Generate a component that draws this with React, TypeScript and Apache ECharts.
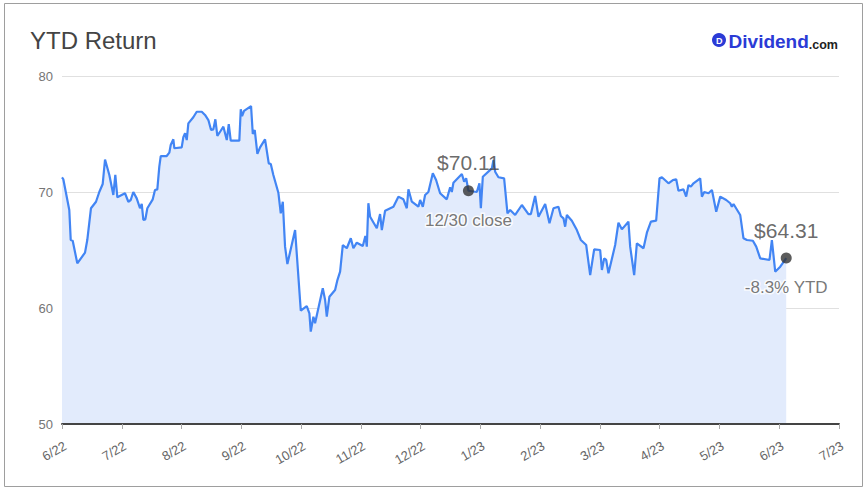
import React, { useEffect, useRef } from "react";
import * as echarts from "echarts";

// x positions in months since 6/22 (axis has evenly spaced months)
const tickLabels = ["6/22", "7/22", "8/22", "9/22", "10/22", "11/22", "12/22", "1/23", "2/23", "3/23", "4/23", "5/23", "6/23", "7/23"];

const t = [
  0.000, 0.022, 0.122, 0.146, 0.179, 0.256, 0.385, 0.423, 0.485, 0.569, 0.624, 0.681, 0.720, 0.792, 0.859, 0.892, 0.926,
  1.054, 1.110, 1.150, 1.193, 1.250, 1.305, 1.334, 1.361, 1.394, 1.428, 1.518, 1.556, 1.595, 1.628, 1.652, 1.752, 1.796, 1.819, 1.863, 1.880,
  2.003, 2.030, 2.059, 2.087, 2.114, 2.197, 2.254, 2.338, 2.393, 2.449, 2.494, 2.532, 2.566, 2.599, 2.656, 2.700, 2.757, 2.790, 2.823, 2.967, 2.991,
  3.013, 3.046, 3.163, 3.192, 3.225, 3.269, 3.314, 3.397, 3.459, 3.493, 3.536, 3.620, 3.660, 3.694, 3.732, 3.771, 3.900, 3.995,
  4.095, 4.139, 4.162, 4.206, 4.234, 4.363, 4.402, 4.430, 4.474, 4.569, 4.608, 4.653, 4.698, 4.765, 4.832, 4.875, 4.932,
  5.033, 5.076, 5.100, 5.126, 5.155, 5.267, 5.322, 5.351, 5.406, 5.545, 5.628, 5.712, 5.769, 5.796, 5.853, 5.963, 5.992,
  6.037, 6.075, 6.130, 6.204, 6.259, 6.326, 6.438, 6.494, 6.522, 6.549, 6.690, 6.728, 6.762, 6.800, 6.941, 6.984,
  7.008, 7.041, 7.192, 7.219, 7.247, 7.302, 7.397, 7.453, 7.498, 7.582, 7.694, 7.804, 7.845, 7.916, 7.972,
  8.084, 8.156, 8.223, 8.306, 8.346, 8.390, 8.418, 8.447, 8.530, 8.614, 8.681, 8.770, 8.837, 8.904,
  9.004, 9.033, 9.071, 9.105, 9.143, 9.255, 9.310, 9.367, 9.477, 9.506, 9.573, 9.618, 9.729, 9.786, 9.853, 9.941, 9.997,
  10.037, 10.147, 10.221, 10.276, 10.314, 10.398, 10.443, 10.482, 10.522, 10.566, 10.678, 10.706, 10.745, 10.817, 10.874, 10.946,
  11.013, 11.113, 11.180, 11.208, 11.235, 11.347, 11.402, 11.459, 11.559, 11.615, 11.682, 11.837, 11.877, 11.933,
  12.017, 12.062, 12.117,
];

const price = [
  71.27, 71.10, 68.45, 65.86, 65.80, 63.85, 64.77, 65.86, 68.60, 69.16, 70.00, 70.69, 72.80, 71.47, 69.74, 71.47, 69.54,
  69.89, 69.16, 69.31, 70.00, 69.45, 68.60, 68.97, 67.59, 67.64, 68.60, 69.37, 70.17, 70.23, 72.18, 73.10, 73.10, 73.39, 74.05, 74.54, 73.77,
  73.85, 74.72, 75.06, 74.48, 75.92, 76.44, 76.92, 76.92, 76.64, 76.20, 75.34, 75.40, 76.27, 74.83, 75.28, 75.63, 74.48, 75.86, 74.43, 74.43, 77.13,
  76.55, 77.00, 77.41, 75.00, 75.34, 73.28, 73.85, 74.54, 72.47, 72.41, 71.47, 69.94, 68.16, 69.16, 65.29, 63.79, 66.72, 59.77,
  60.17, 59.54, 57.96, 59.25, 58.68, 61.70, 60.69, 59.25, 60.97, 61.55, 62.41, 63.13, 65.43, 65.15, 66.01, 65.15, 65.63,
  65.34, 66.21, 65.29, 69.03, 67.87, 66.87, 68.10, 66.72, 68.39, 68.73, 69.60, 69.37, 68.60, 70.23, 69.16, 68.73, 69.31,
  68.73, 69.74, 70.00, 71.61, 71.03, 69.89, 69.37, 70.40, 70.00, 70.80, 71.55, 70.89, 71.18, 70.11, 70.00, 70.75,
  68.60, 71.32, 72.04, 72.76, 71.75, 71.27, 71.18, 68.16, 68.45, 68.02, 68.88, 68.10, 68.10, 69.66, 67.87,
  68.97, 67.30, 68.60, 68.73, 67.93, 67.73, 67.01, 68.02, 67.53, 66.72, 65.86, 65.43, 62.84, 65.06,
  65.00, 63.28, 64.28, 64.14, 62.99, 65.43, 67.35, 66.78, 67.44, 65.29, 62.84, 65.57, 65.15, 66.49, 67.44, 67.53, 71.18,
  71.27, 70.75, 71.03, 71.10, 70.11, 70.23, 69.60, 70.60, 70.46, 70.75, 71.18, 69.60, 70.00, 69.89, 70.17, 68.30,
  69.60, 69.31, 69.03, 68.73, 68.97, 68.02, 66.01, 65.86, 65.80, 65.29, 64.28, 64.14, 65.86, 63.13,
  63.56, 63.90, 64.31,
];

const annT = [6.8, 12.117];
const annPrice = [70.11, 64.31];
const annNote = ["12/30 close", "-8.3% YTD"];

const FONT = "Arial, 'Liberation Sans', sans-serif";

export default function App() {
  const ref = useRef<HTMLDivElement>(null);

  useEffect(() => {
    document.body.style.margin = "0";
    if (!ref.current) return;
    const chart = echarts.init(ref.current, undefined, { renderer: "svg" });
    const lineData = t.map((x, i) => [x, price[i]]);
    const annData = annT.map((x, i) => [x, annPrice[i]]);

    chart.setOption({
      animation: false,
      backgroundColor: "#fff",
      textStyle: { fontFamily: FONT },
      grid: { left: 62, right: 28, top: 76, bottom: 67, containLabel: false },
      xAxis: {
        type: "value",
        min: 0,
        max: 13,
        interval: 1,
        z: 5,
        axisLine: { show: true, lineStyle: { color: "#444", width: 2 } },
        axisTick: { show: true, length: 5, lineStyle: { color: "#aaa" } },
        splitLine: { show: false },
        axisLabel: {
          rotate: 30,
          margin: 15,
          verticalAlign: "top",
          color: "#666",
          fontSize: 13,
          fontFamily: FONT,
          formatter: (v: number) => tickLabels[Math.round(v)] ?? "",
        },
      },
      yAxis: {
        type: "value",
        min: 50,
        max: 80,
        interval: 10,
        axisLine: { show: false },
        axisTick: { show: false },
        splitLine: { lineStyle: { color: "#e0e0e0", width: 1 } },
        axisLabel: { color: "#757575", fontSize: 13, margin: 9, fontFamily: FONT },
      },
      graphic: [
        {
          type: "rect",
          shape: { x: 4.5, y: 3.5, width: 858, height: 483 },
          style: { fill: "none", stroke: "#9e9e9e", lineWidth: 1 },
          silent: true,
        },
        {
          type: "text",
          x: 30,
          y: 40,
          style: { text: "YTD Return", font: `24px ${FONT}`, fill: "#444", align: "left", verticalAlign: "middle" },
        },
        {
          type: "circle",
          shape: { cx: 719, cy: 40, r: 7 },
          style: { fill: "#2b3bd6" },
        },
        {
          type: "text",
          x: 719.2,
          y: 40.5,
          style: { text: "D", font: `bold 9px ${FONT}`, fill: "#fff", align: "center", verticalAlign: "middle" },
        },
        {
          type: "text",
          x: 838,
          y: 40,
          style: {
            text: "{a|Dividend}{b|.com}",
            align: "right",
            verticalAlign: "middle",
            rich: {
              a: { fontFamily: FONT, fontWeight: "bold", fontSize: 19, fill: "#2b3bd6", color: "#2b3bd6", verticalAlign: "bottom", lineHeight: 22 },
              b: { fontFamily: FONT, fontWeight: "bold", fontSize: 12.5, fill: "#222", color: "#222", verticalAlign: "bottom", lineHeight: 22 },
            },
          },
        },
      ],
      series: [
        {
          type: "line",
          data: lineData,
          showSymbol: false,
          symbol: "none",
          lineStyle: { color: "#4285f4", width: 2.2 },
          areaStyle: { color: "#e2ebfc", opacity: 1 },
          z: 2,
        },
        {
          type: "scatter",
          data: annData,
          symbolSize: 10,
          itemStyle: { color: "rgba(0,0,0,0)" },
          label: {
            show: true,
            position: "bottom",
            distance: 16,
            color: "#555",
            fontSize: 17,
            fontFamily: FONT,
            textBorderColor: "#fff",
            textBorderWidth: 3,
            formatter: (p: any) => annNote[p.dataIndex],
          },
          z: 6,
        },
        {
          type: "scatter",
          data: annData,
          symbolSize: 11,
          itemStyle: { color: "#333" },
          label: {
            show: true,
            position: "top",
            distance: 12,
            color: "#444",
            fontSize: 21,
            fontFamily: FONT,
            formatter: (p: any) => "$" + annPrice[p.dataIndex].toFixed(2),
          },
          z: 7,
        },
      ],
    });
    return () => chart.dispose();
  }, []);

  return <div ref={ref} style={{ width: 867, height: 491 }} />;
}
